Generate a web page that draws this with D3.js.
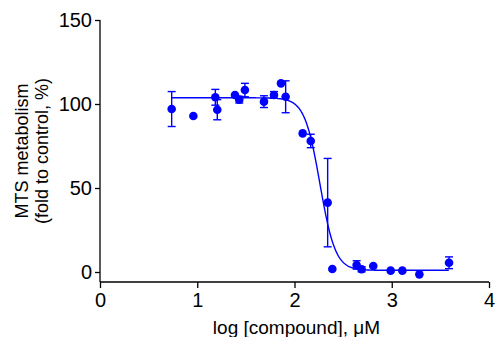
<!DOCTYPE html>
<html>
<head>
<meta charset="utf-8">
<script src="https://cdn.jsdelivr.net/npm/d3@7"></script>
<style>
html,body{margin:0;padding:0;background:#fff;}
svg{display:block;}
text{font-family:"Liberation Sans",Arial,sans-serif;fill:#000;}
</style>
</head>
<body>
<svg id="chart" width="496" height="337"></svg>
<script>
// Data
const logConc  = [0.737, 0.96, 1.186, 1.206, 1.388, 1.432, 1.49, 1.686, 1.789, 1.861, 1.909, 2.084, 2.167, 2.341, 2.389, 2.639, 2.69, 2.81, 2.989, 3.109, 3.284, 3.589];
const response = [97.0, 92.9, 104.0, 96.6, 105.4, 102.6, 108.3, 101.4, 105.4, 112.3, 104.3, 82.5, 78.0, 41.3, 1.8, 4.2, 1.6, 3.6, 0.8, 0.8, -1.4, 5.5];
const errorSEM = [10.4, 0, 4.7, 6.0, 0, 2.0, 4.0, 3.5, 2.0, 0, 9.5, 0, 4.0, 26.3, 0, 2.5, 1.5, 0, 0, 0, 0, 3.5];
// Four-parameter logistic fit: [bottom, top, logIC50, hillSlope]
const fitParams = [1.0, 103.7, 2.262, 5.5];
const xTicks = [0, 1, 2, 3, 4];
const yTicks = [0, 50, 100, 150];
const xTitle = "log [compound], \u03BCM";
const yTitleLines = ["MTS metabolism", "(fold to control, %)"];

(function(){
const color = "#0000ff";
const svg = d3.select("#chart");
svg.append("rect").attr("width",496).attr("height",337).attr("fill","#fff");

const x = d3.scaleLinear().domain([0,4]).range([100,489]);
const y = d3.scaleLinear().domain([0,150]).range([272,20]);
const xAxisY = 282;

// Y axis
const yAxis = svg.append("g").attr("transform","translate(100,0)")
  .call(d3.axisLeft(y).tickValues(yTicks).tickSize(5).tickPadding(3).tickFormat(d3.format("d")));
yAxis.select(".domain").remove();
yAxis.selectAll(".tick line").attr("stroke","#000").attr("stroke-width",1.3);
yAxis.selectAll(".tick text").attr("font-size",20).attr("font-family","Liberation Sans, Arial, sans-serif");
svg.append("line").attr("x1",100).attr("x2",100).attr("y1",y(150)).attr("y2",xAxisY)
  .attr("stroke","#000").attr("stroke-width",1.3);

// X axis
const xAxis = svg.append("g").attr("transform",`translate(0,${xAxisY})`)
  .call(d3.axisBottom(x).tickValues(xTicks).tickSize(6).tickPadding(5).tickFormat(d3.format("d")));
xAxis.select(".domain").remove();
xAxis.selectAll(".tick line").attr("stroke","#000").attr("stroke-width",1.3);
xAxis.selectAll(".tick text").attr("font-size",20).attr("font-family","Liberation Sans, Arial, sans-serif");
svg.append("line").attr("x1",x(0)).attr("x2",x(4)).attr("y1",xAxisY).attr("y2",xAxisY)
  .attr("stroke","#000").attr("stroke-width",1.3);

// Axis titles
svg.append("text").attr("x",(x(0)+x(4))/2 + 2).attr("y",334).attr("text-anchor","middle")
  .attr("font-size",19).text(xTitle);
const yt = svg.append("text").attr("transform","translate(28,151) rotate(-90)")
  .attr("text-anchor","middle").attr("font-size",18);
yTitleLines.forEach((t,i)=>{
  yt.append("tspan").attr("x",0).attr("dy", i===0 ? 0 : 20).text(t);
});

// Fit curve
const [fBottom, fTop, logIC50, hill] = fitParams;
const fit = v => fBottom + (fTop-fBottom)/(1+Math.pow(10,(v-logIC50)*hill));
const xs = d3.range(logConc[0], logConc[logConc.length-1]+0.0001, 0.005);
svg.append("path").datum(xs)
  .attr("d", d3.line().x(v=>x(v)).y(v=>y(fit(v))))
  .attr("fill","none").attr("stroke",color).attr("stroke-width",1.4);

// Error bars
const pts = logConc.map((v,i)=>({x:v, y:response[i], e:errorSEM[i]}));
const eb = svg.append("g").attr("stroke",color).attr("stroke-width",1.4).attr("fill","none");
pts.filter(d=>d.e>0).forEach(d=>{
  eb.append("line").attr("x1",x(d.x)).attr("x2",x(d.x)).attr("y1",y(d.y+d.e)).attr("y2",y(d.y-d.e));
  [d.y+d.e, d.y-d.e].forEach(v=>{
    eb.append("line").attr("x1",x(d.x)-4).attr("x2",x(d.x)+4).attr("y1",y(v)).attr("y2",y(v));
  });
});

// Points
svg.append("g").selectAll("circle").data(pts).join("circle")
  .attr("cx",d=>x(d.x)).attr("cy",d=>y(d.y)).attr("r",4.3).attr("fill",color);
})();
</script>
</body>
</html>
